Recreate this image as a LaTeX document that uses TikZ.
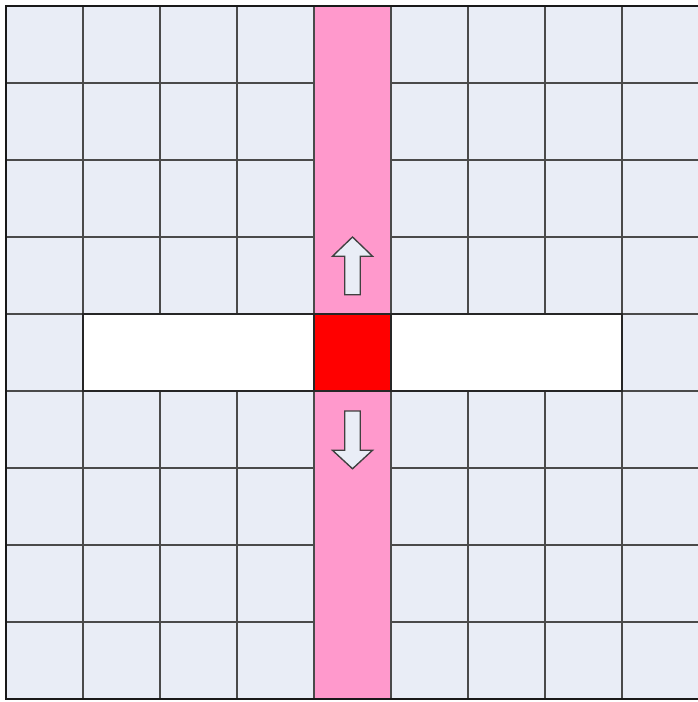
\documentclass[tikz,border=0pt]{standalone}
\usepackage[dvipsnames]{xcolor}
\usepackage{tikz}
\definecolor{cellbg}{HTML}{E9EDF6}
\definecolor{lanepink}{HTML}{FF99CC}
\definecolor{gridline}{HTML}{4A4A4A}

\begin{document}
\begin{tikzpicture}[
    x=1cm, y=-1cm,
    cell/.style={fill=cellbg, draw=gridline, line width=0.75pt},
    lane/.style={fill=lanepink, draw=gridline, line width=0.75pt},
    freecell/.style={fill=white, draw=black!85, line width=0.75pt},
    current/.style={fill=red, draw=black!85, line width=0.75pt},
    blockarrow/.style={fill=cellbg, draw=black!75, line width=0.5pt, line join=miter},
    frame/.style={draw=black!90, line width=1.1pt}
]
\useasboundingbox (-0.078,-0.078) rectangle (8.974,9.039);

% grid of cells
\foreach \c in {0,...,8}
  \foreach \r in {0,...,8}
    \draw[cell] (\c,\r) rectangle ++(1,1);

% vertical lane
\draw[lane] (4,0) rectangle (5,9);

% horizontal row
\draw[freecell] (1,4) rectangle (4,5);
\draw[freecell] (5,4) rectangle (8,5);
\draw[current] (4,4) rectangle (5,5);

% arrows up and down
\draw[blockarrow] (4.5,3) -- (4.76,3.25) -- (4.6,3.25) -- (4.6,3.75)
    -- (4.4,3.75) -- (4.4,3.25) -- (4.24,3.25) -- cycle;
\draw[blockarrow] (4.5,6.01) -- (4.76,5.77) -- (4.6,5.77) -- (4.6,5.26)
    -- (4.4,5.26) -- (4.4,5.77) -- (4.24,5.77) -- cycle;

% outer frame
\draw[frame] (0,0) rectangle (9,9);
\end{tikzpicture}
\end{document}
